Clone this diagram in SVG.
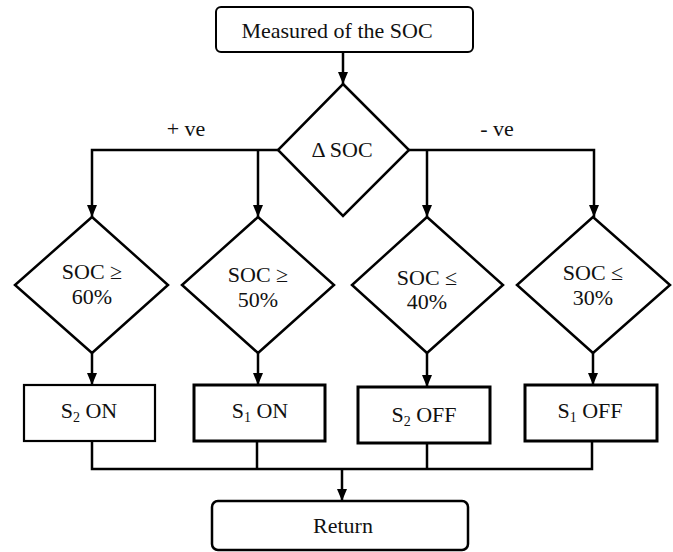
<svg xmlns="http://www.w3.org/2000/svg" width="673" height="552" viewBox="0 0 673 552" font-family="Liberation Serif, Times New Roman, serif">
<style>
  text { font-family: "Liberation Serif", "Times New Roman", serif; font-size: 22px; fill: #111; text-anchor: middle; }
  .sub { font-size: 14px; }
  .node { fill: #fff; stroke: #000; }
  .line { fill: none; stroke: #000; stroke-width: 2.5; }
</style>
<defs>
  <marker id="arr" viewBox="0 0 12 10" refX="12" refY="5" markerWidth="12" markerHeight="10" markerUnits="userSpaceOnUse" orient="auto">
    <path d="M0,0 L12,5 L0,10 Z" fill="#000"/>
  </marker>
</defs>
<rect width="673" height="552" fill="#fff"/>

<g id="connectors">
  <line class="line" x1="343" y1="52" x2="343" y2="84" marker-end="url(#arr)"/>
  <polyline class="line" points="278,150 92,150 92,217" marker-end="url(#arr)"/>
  <line class="line" x1="258" y1="150" x2="258" y2="217" marker-end="url(#arr)"/>
  <polyline class="line" points="409,150 594,150 594,217" marker-end="url(#arr)"/>
  <line class="line" x1="427" y1="150" x2="427" y2="217" marker-end="url(#arr)"/>
  <line class="line" x1="92" y1="353" x2="92" y2="385" marker-end="url(#arr)"/>
  <line class="line" x1="258" y1="353" x2="258" y2="385" marker-end="url(#arr)"/>
  <line class="line" x1="427" y1="353" x2="427" y2="387" marker-end="url(#arr)"/>
  <line class="line" x1="593" y1="353" x2="593" y2="385" marker-end="url(#arr)"/>
  <polyline class="line" points="92,441 92,469 592,469 592,441"/>
  <line class="line" x1="257" y1="441" x2="257" y2="469"/>
  <line class="line" x1="427" y1="443" x2="427" y2="469"/>
  <line class="line" x1="342" y1="469" x2="342" y2="501" marker-end="url(#arr)"/>
  <text x="186" y="136">+ ve</text>
  <text x="497" y="136">- ve</text>
</g>

<g id="start">
  <rect class="node" x="216" y="7" width="257" height="45" rx="5" stroke-width="2"/>
  <text x="337" y="38">Measured of the SOC</text>
</g>

<g id="delta">
  <polygon class="node" points="343,84 409,150 343,216 278,150" stroke-width="2.5"/>
  <text x="342" y="157">Δ SOC</text>
</g>

<g id="d60">
  <polygon class="node" points="92,217 168,285 92,353 15,285" stroke-width="2.5"/>
  <text x="92" y="279">SOC ≥</text>
  <text x="92" y="304">60%</text>
</g>
<g id="d50">
  <polygon class="node" points="258,217 334,285 258,353 182,285" stroke-width="2.5"/>
  <text x="258" y="282">SOC ≥</text>
  <text x="258" y="307">50%</text>
</g>
<g id="d40">
  <polygon class="node" points="427,217 503,285 427,353 352,285" stroke-width="2.5"/>
  <text x="427" y="285">SOC ≤</text>
  <text x="427" y="309">40%</text>
</g>
<g id="d30">
  <polygon class="node" points="593,217 670,285 593,353 517,285" stroke-width="2.5"/>
  <text x="593" y="280">SOC ≤</text>
  <text x="593" y="305">30%</text>
</g>

<g id="s2on">
  <rect class="node" x="24" y="385" width="131" height="56" stroke-width="2.2"/>
  <text x="89" y="418">S<tspan class="sub" dy="4">2</tspan><tspan dy="-4"> ON</tspan></text>
</g>
<g id="s1on">
  <rect class="node" x="194" y="385" width="131" height="56" stroke-width="3"/>
  <text x="260" y="418">S<tspan class="sub" dy="4">1</tspan><tspan dy="-4"> ON</tspan></text>
</g>
<g id="s2off">
  <rect class="node" x="358" y="387" width="132" height="56" stroke-width="3"/>
  <text x="424" y="422">S<tspan class="sub" dy="4">2</tspan><tspan dy="-4"> OFF</tspan></text>
</g>
<g id="s1off">
  <rect class="node" x="525" y="385" width="132" height="56" stroke-width="3"/>
  <text x="590" y="418">S<tspan class="sub" dy="4">1</tspan><tspan dy="-4"> OFF</tspan></text>
</g>

<g id="return">
  <rect class="node" x="212" y="501" width="256" height="49" rx="6" stroke-width="2.5"/>
  <text x="343" y="533">Return</text>
</g>
</svg>
